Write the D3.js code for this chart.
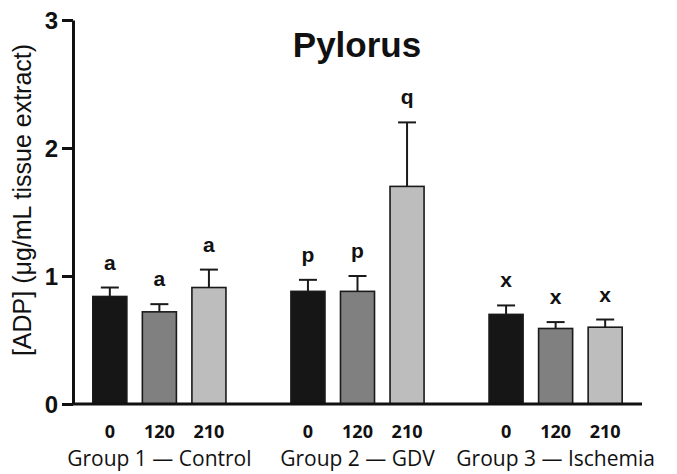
<!DOCTYPE html>
<html>
<head>
<meta charset="utf-8">
<script src="https://cdn.jsdelivr.net/npm/d3@7"></script>
<style>
  html, body { margin: 0; padding: 0; background: #fff; }
  svg { display: block; }
</style>
</head>
<body>
<svg id="chart" width="677" height="474"></svg>
<script>
// ADP concentration in pyloric tissue by group and sampling time (min)
const groups = ["Group 1 \u2014 Control", "Group 2 \u2014 GDV", "Group 3 \u2014 Ischemia"];
const times = ["0", "120", "210"];
const meanValues = [
  [0.84, 0.72, 0.91],
  [0.88, 0.88, 1.70],
  [0.70, 0.59, 0.60]
];
const errorValues = [
  [0.07, 0.06, 0.14],
  [0.09, 0.12, 0.50],
  [0.07, 0.05, 0.06]
];
const sigLetters = [
  ["a", "a", "a"],
  ["p", "p", "q"],
  ["x", "x", "x"]
];
const yTicks = [0, 1, 2, 3];
const barColors = ["#161616", "#808080", "#bdbdbd"];

const svg = d3.select("#chart");
const margin = { left: 73, right: 35, top: 20, bottom: 70 };
const W = 677, H = 474;

const y = d3.scaleLinear().domain([0, 3]).range([H - margin.bottom, margin.top]);

const xGroup = d3.scaleBand()
  .domain(groups)
  .range([margin.left, W - margin.right])
  .paddingInner(0.328)
  .paddingOuter(0.1);

const xTime = d3.scaleBand()
  .domain(times)
  .range([0, xGroup.bandwidth()])
  .paddingInner(0.313)
  .paddingOuter(0);

const rows = [];
groups.forEach((g, gi) => {
  times.forEach((t, ti) => {
    rows.push({ group: g, time: t, ti, mean: meanValues[gi][ti], err: errorValues[gi][ti], letter: sigLetters[gi][ti] });
  });
});

const arial = "'Liberation Sans', Arial, sans-serif";
const sans = "'Open Sans', 'Noto Sans', sans-serif";
const cx = d => xGroup(d.group) + xTime(d.time) + xTime.bandwidth() / 2;

// bars
svg.append("g").selectAll("rect")
  .data(rows)
  .join("rect")
  .attr("x", d => xGroup(d.group) + xTime(d.time))
  .attr("y", d => y(d.mean))
  .attr("width", xTime.bandwidth())
  .attr("height", d => y(0) - y(d.mean))
  .attr("fill", d => barColors[d.ti])
  .attr("stroke", "#1a1a1a")
  .attr("stroke-width", 1.6);

// error bars (upper only)
const capHalf = 9;
const eb = svg.append("g").attr("stroke", "#1a1a1a").attr("stroke-width", 2);
eb.selectAll("line.stem")
  .data(rows)
  .join("line")
  .attr("class", "stem")
  .attr("x1", cx)
  .attr("x2", cx)
  .attr("y1", d => y(d.mean))
  .attr("y2", d => y(d.mean + d.err));
eb.selectAll("line.cap")
  .data(rows)
  .join("line")
  .attr("class", "cap")
  .attr("x1", d => cx(d) - capHalf)
  .attr("x2", d => cx(d) + capHalf)
  .attr("y1", d => y(d.mean + d.err))
  .attr("y2", d => y(d.mean + d.err));

// significance letters
svg.append("g").selectAll("text")
  .data(rows)
  .join("text")
  .attr("x", cx)
  .attr("y", d => y(d.mean + d.err) - 18)
  .attr("text-anchor", "middle")
  .attr("font-family", arial)
  .attr("font-weight", "bold")
  .attr("font-size", 21)
  .attr("fill", "#111")
  .text(d => d.letter);

// y axis
const yAxis = svg.append("g")
  .attr("transform", `translate(${margin.left},0)`)
  .call(d3.axisLeft(y).tickValues(yTicks).tickFormat(d3.format("d")).tickSize(11).tickSizeOuter(0).tickPadding(4));
yAxis.select(".domain").attr("stroke", "#111").attr("stroke-width", 3);
yAxis.selectAll(".tick line").attr("stroke", "#111").attr("stroke-width", 3);
yAxis.selectAll(".tick text")
  .attr("font-family", arial)
  .attr("font-weight", "bold")
  .attr("font-size", 24)
  .attr("fill", "#111")
  .attr("dy", "0.36em");

// x baseline
svg.append("line")
  .attr("x1", margin.left)
  .attr("x2", W - margin.right)
  .attr("y1", y(0))
  .attr("y2", y(0))
  .attr("stroke", "#111")
  .attr("stroke-width", 3);

// time labels per group
groups.forEach(g => {
  const ax = svg.append("g")
    .attr("transform", `translate(${xGroup(g)},${y(0)})`)
    .call(d3.axisBottom(xTime).tickSize(0).tickPadding(21));
  ax.select(".domain").remove();
  ax.selectAll(".tick text")
    .attr("font-family", sans)
    .attr("font-weight", "bold")
    .attr("font-size", 18)
    .attr("fill", "#111");
});

// group labels
svg.append("g").selectAll("text")
  .data(groups)
  .join("text")
  .attr("x", d => xGroup(d) + xGroup.bandwidth() / 2)
  .attr("y", 466)
  .attr("text-anchor", "middle")
  .attr("font-family", sans)
  .attr("font-size", 21)
  .attr("fill", "#111")
  .text(d => d);

// title
svg.append("text")
  .attr("x", 357)
  .attr("y", 57)
  .attr("text-anchor", "middle")
  .attr("font-family", arial)
  .attr("font-weight", "bold")
  .attr("font-size", 35)
  .attr("fill", "#111")
  .text("Pylorus");

// y axis title
svg.append("text")
  .attr("transform", "translate(31,200) rotate(-90)")
  .attr("text-anchor", "middle")
  .attr("font-family", arial)
  .attr("font-size", 25)
  .attr("fill", "#111")
  .text("[ADP] (\u03bcg/mL tissue extract)");
</script>
</body>
</html>
